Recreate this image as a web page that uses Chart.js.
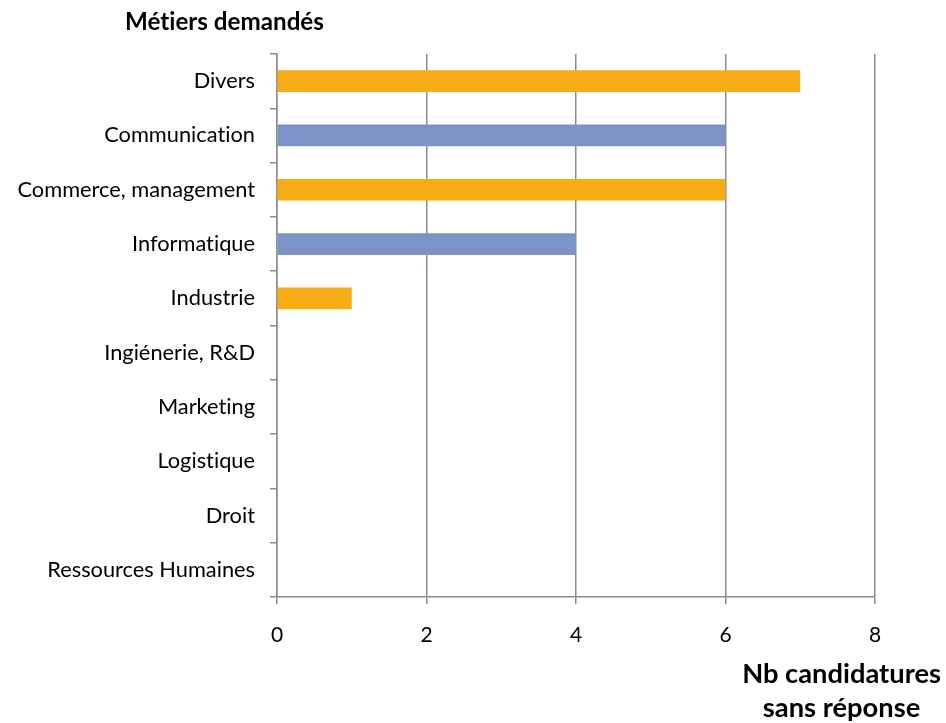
<!DOCTYPE html>
<html><head><meta charset="utf-8">
<script src="https://cdn.jsdelivr.net/npm/chart.js@4/dist/chart.umd.min.js"></script>
<style>
html,body{margin:0;padding:0;background:#fff;}
#wrap{position:relative;width:946px;height:723px;}
canvas{position:absolute;left:0;top:0;}
.t{position:absolute;font-family:Lato,"Open Sans",sans-serif;font-weight:bold;color:#000;white-space:nowrap;font-variant-ligatures:none;}
</style></head>
<body><div id="wrap">
<canvas id="c" width="946" height="723"></canvas>
<div class="t" id="title" style="left:125px;top:6px;font-size:24.2px;">Métiers demandés</div>
<div class="t" id="xtitle" style="right:5px;top:656px;font-size:27.3px;text-align:center;line-height:34px;">Nb candidatures<br>sans réponse</div>
</div>
<script>
const categories = ["Divers","Communication","Commerce, management","Informatique","Industrie","Ingiénerie, R&D","Marketing","Logistique","Droit","Ressources Humaines"];
const values = [7,6,6,4,1,0,0,0,0,0];
const barColors = ["#F6AC15","#7B93C6","#F6AC15","#7B93C6","#F6AC15","#7B93C6","#F6AC15","#7B93C6","#F6AC15","#7B93C6"];
const xTicks = [0,2,4,6,8];

const gray = "#8C8C8C";
const noLig = { id: 'noLig', beforeDraw(chart) { try { chart.ctx.textRendering = 'optimizeSpeed'; } catch(e){} } };
new Chart(document.getElementById('c'), {
  type: 'bar',
  data: { labels: categories, datasets: [{ data: values, backgroundColor: barColors, borderWidth: 0, barPercentage: 0.4, categoryPercentage: 1 }] },
  options: {
    indexAxis: 'y', responsive: false, animation: false,
    layout: { padding: { top: 54, right: 71, left: 0, bottom: 0 } },
    plugins: { legend: { display: false }, tooltip: { enabled: false } },
    scales: {
      x: {
        min: 0, max: 8,
        afterBuildTicks: s => { s.ticks = xTicks.map(v => ({ value: v })); },
        afterFit: s => { s.height = 723 - 597; },
        grid: { color: gray, lineWidth: 1.5, tickLength: 7, drawOnChartArea: true },
        border: { color: gray, width: 1.5 },
        ticks: { color: "#000", font: { family: "Lato", size: 21 }, padding: 19 }
      },
      y: {
        afterFit: s => { s.width = 277; },
        grid: { color: gray, lineWidth: 1.5, tickLength: 7, offset: true, drawOnChartArea: false },
        border: { color: gray, width: 1.5 },
        ticks: { color: "#000", font: { family: "Lato", size: 21.8 }, padding: 15, autoSkip: false }
      }
    }
  },
  plugins: [noLig]
});
</script>
</body></html>
